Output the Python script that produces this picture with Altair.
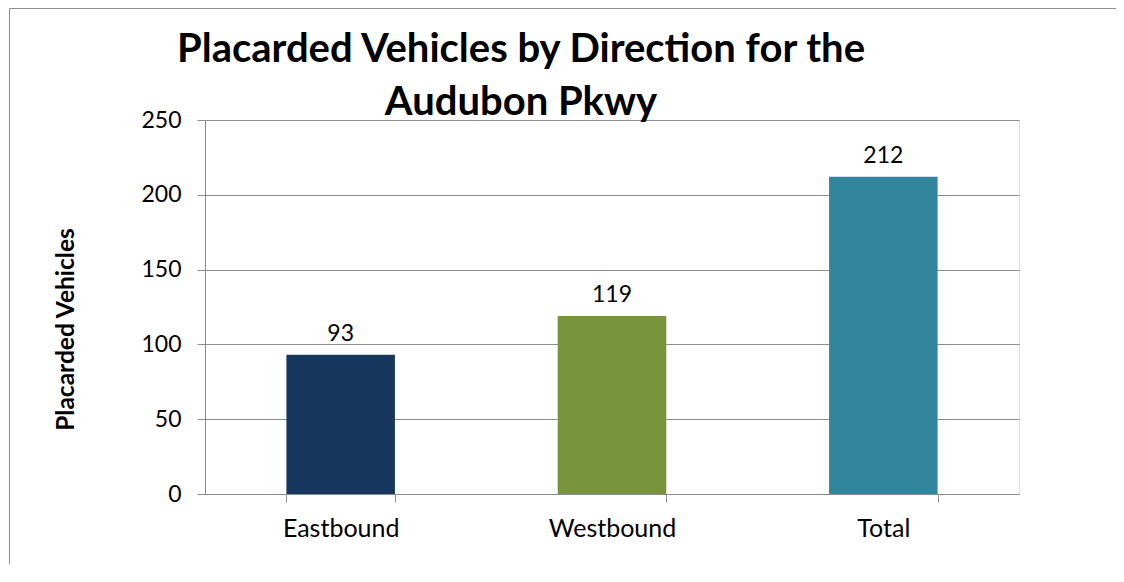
import altair as alt
import pandas as pd

categories = ["Eastbound", "Westbound", "Total"]
values = [93, 119, 212]
colors = ["#17375E", "#77933C", "#31859C"]
y_ticks = [0, 50, 100, 150, 200, 250]
title_lines = ["Placarded Vehicles by Direction for the", "Audubon Pkwy"]
y_title = "Placarded Vehicles"

df = pd.DataFrame({"Direction": categories, "Vehicles": values})
frame_df = pd.DataFrame({"k": [0]})

FONT = "Lato"
GRID = "#8C8C8C"

x_enc = alt.X(
    "Direction:N", sort=categories, title=None,
    scale=alt.Scale(paddingInner=0.6, paddingOuter=0.3),
    axis=alt.Axis(labelAngle=0, tickBand="extent", tickSize=8, tickColor=GRID,
                  domainColor=GRID, labelFont=FONT, labelFontSize=25,
                  labelColor="black", labelPadding=14, grid=False),
)
y_enc = alt.Y(
    "Vehicles:Q", scale=alt.Scale(domain=[0, 250], nice=False),
    axis=alt.Axis(values=y_ticks, title=y_title, tickSize=8, tickColor=GRID,
                  domainColor=GRID, gridColor=GRID, gridOpacity=1,
                  labelFont=FONT, labelFontSize=23, labelColor="black",
                  labelPadding=16, titleFont=FONT, titleFontSize=24.5,
                  titleFontWeight="bold", titleColor="black",
                  titleX=-139, titleY=209, titleAlign="center",
                  titleBaseline="middle", titleAngle=270),
)

bars = alt.Chart(df).mark_bar().encode(
    x=x_enc, y=y_enc,
    color=alt.Color("Direction:N", scale=alt.Scale(domain=categories, range=colors), legend=None),
)
labels = alt.Chart(df).mark_text(
    baseline="alphabetic", dy=-14, font=FONT, fontSize=23, color="black"
).encode(x=alt.X("Direction:N", sort=categories), y="Vehicles:Q", text="Vehicles:Q")

frame_v = alt.Chart(frame_df).mark_rule(color=GRID, strokeWidth=1).encode(
    x=alt.value(-195.5), y=alt.value(-111.5), y2=alt.value(700))
frame_h = alt.Chart(frame_df).mark_rule(color=GRID, strokeWidth=1).encode(
    y=alt.value(-111.5), x=alt.value(-195.5), x2=alt.value(1300))

chart = alt.layer(frame_v, frame_h, bars, labels).properties(
    width=814, height=374,
    autosize=alt.AutoSizeParams(type="none"),
    padding={"left": 197, "top": 112, "right": 97, "bottom": 70},
    title=alt.TitleParams(text=title_lines, anchor="middle", frame="group", dx=-91,
                          font=FONT, fontSize=40, fontWeight="bold", color="black",
                          lineHeight=53, baseline="bottom", offset=-155),
).configure_view(stroke=None).configure(background="white")

chart.save("out.html", embed_options={"renderer": "svg", "actions": False})
